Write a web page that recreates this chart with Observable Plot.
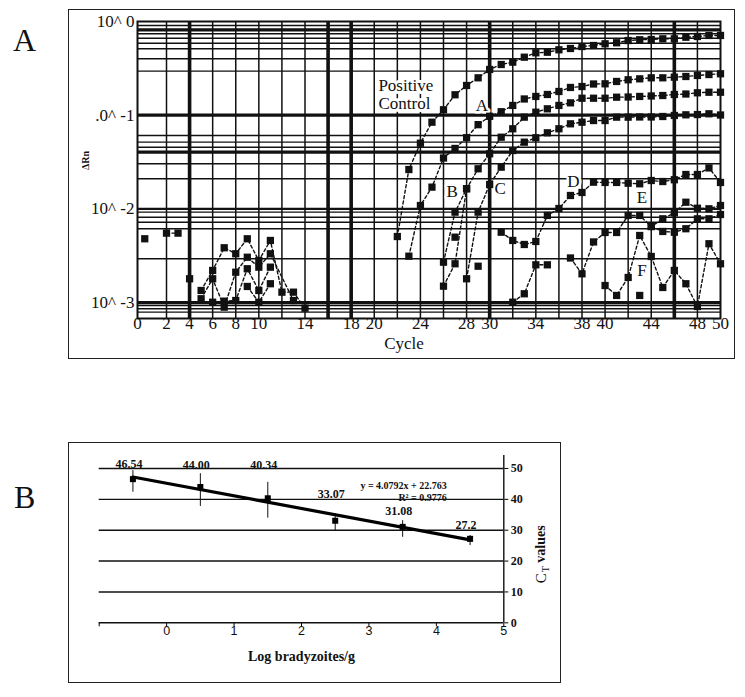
<!DOCTYPE html>
<html><head><meta charset="utf-8">
<script src="https://cdn.jsdelivr.net/npm/d3@7"></script>
<script src="https://cdn.jsdelivr.net/npm/@observablehq/plot@0.6"></script>
<style>
body{margin:0;background:#fff;}
#page{position:relative;width:745px;height:697px;overflow:hidden;background:#fff;}
.box{position:absolute;border:1px solid #222;}
.box svg{display:block;}
.panel{position:absolute;font-family:"Liberation Serif",serif;font-size:32px;line-height:1;color:#111;}
</style></head>
<body>
<div id="page">
  <div class="panel" style="left:13px;top:24px">A</div>
  <div class="panel" style="left:14px;top:481px">B</div>
  <div id="boxA" class="box" style="left:68px;top:9px;width:665px;height:348px"></div>
  <div id="boxB" class="box" style="left:68px;top:442px;width:491px;height:239px"></div>
</div>
<script>
// ---------- Panel A : amplification plot (values are log10 ΔRn) ----------
const pcCycles = d3.range(22, 51);
const pcLog = [-2.295,-1.580,-1.299,-1.075,-0.942,-0.782,-0.683,-0.601,-0.512,-0.459,-0.434,-0.381,-0.334,-0.328,-0.302,-0.288,-0.267,-0.256,-0.238,-0.227,-0.203,-0.195,-0.192,-0.185,-0.185,-0.168,-0.160,-0.149,-0.149];
const aCycles = d3.range(23, 51);
const aLog = [-2.505,-1.964,-1.768,-1.457,-1.355,-1.240,-1.101,-1.012,-0.963,-0.896,-0.827,-0.800,-0.779,-0.747,-0.704,-0.694,-0.667,-0.665,-0.640,-0.622,-0.612,-0.601,-0.601,-0.594,-0.587,-0.576,-0.566,-0.558];
const bCycles = d3.range(26, 51);
const bLog = [-2.569,-2.035,-1.785,-1.572,-1.412,-1.235,-1.145,-1.021,-0.968,-0.932,-0.896,-0.868,-0.819,-0.819,-0.819,-0.808,-0.806,-0.800,-0.795,-0.790,-0.779,-0.774,-0.761,-0.755,-0.755];
const b2Cycles = [26, 27, 28];
const b2Log = [-2.825,-2.586,-1.785];
const cCycles = d3.range(28, 51);
const cLog = [-2.746,-2.035,-1.740,-1.555,-1.377,-1.288,-1.241,-1.188,-1.145,-1.092,-1.075,-1.057,-1.057,-1.021,-1.021,-1.019,-1.019,-1.014,-1.003,-0.996,-0.993,-0.985,-0.998];
const dCycles = d3.range(31, 51);
const dLog = [-2.249,-2.337,-2.380,-2.348,-2.070,-1.996,-1.857,-1.825,-1.715,-1.718,-1.718,-1.726,-1.732,-1.697,-1.708,-1.689,-1.633,-1.633,-1.563,-1.718];
const eCycles = d3.range(32, 51);
const eLog = [-2.996,-2.906,-2.597,-2.597,null,-2.524,-2.693,-2.353,-2.252,-2.252,-2.070,-2.070,-2.188,-2.106,-2.042,-1.929,-1.993,-1.999,-1.964];
const e2Cycles = d3.range(44, 51);
const e2Log = [-2.188,-2.241,-2.249,-2.212,-2.106,-2.106,-2.060];
const fCycles = d3.range(40, 51);
const fLog = [-2.818,-2.924,-2.732,-2.284,-2.508,-2.839,-2.657,-2.799,-3.042,-2.372,-2.586];
const n1Cycles = [5,6,7,8,9,10,11,12,13,14];
const n1Log = [-2.871,-2.657,-2.415,-2.479,-2.319,-2.551,-2.337,-2.889,-2.889,-3.060];
const n2Cycles = [5,6,7,8,9,10,11,13];
const n2Log = [-2.959,-2.746,-3.049,-2.676,-2.516,-2.622,-2.479,-2.978];
const n3Cycles = [6,7,8,9,10,11];
const n3Log = [-2.996,-2.985,-2.978,-2.639,-2.871,-2.622];
const n4Cycles = [9,10,11];
const n4Log = [-2.828,-2.996,-2.799];
const n5Cycles = [2,3];
const n5Log = [-2.259,-2.259];
const looseCycles = [0.5, 4, 27, 29, 43];
const looseLog = [-2.319,-2.746,-2.302,-2.612,-2.924];

const xTicksA = [0,2,4,6,8,10,14,18,20,24,28,30,34,38,40,44,48,50];
const yTicksA = [0,-1,-2,-3];
const yTickLabelsA = ["10^ 0", ".0^ -1", "10^ -2", "10^ -3"];
const vGridThin = [2,6,8,10,12,14,20,22,24,26,28,32,34,36,38,40,42,44,48];
const vGridThick = [4,16,18,30,46];
const hGridThin = [-0.043,-0.131,-0.178,-0.232,-0.291,-0.398,-0.530,-1.217,-1.288,-1.342,-1.519,-1.679,-2.035,-2.089,-2.142,-2.212,-2.533,-3.032,-3.066,-3.102];
const hGridThick = [-0.089,-1,-1.395,-3];
const hGridMid = [-2];
const controlText = ["Positive","Control"];
const controlCycle = [20.36,20.36];
const controlLog = [-0.683,-0.878];
const curveText = ["A","B","C","D","E","F"];
const curveCycle = [29.33,26.75,30.9,37.25,43.2,43.2];
const curveLog = [-0.902,-1.814,-1.782,-1.71,-1.882,-2.657];

const seriesDefs = [
  ["PC", pcCycles, pcLog], ["A", aCycles, aLog], ["B", bCycles, bLog], ["B2", b2Cycles, b2Log],
  ["C", cCycles, cLog], ["D", dCycles, dLog], ["E", eCycles, eLog], ["E2", e2Cycles, e2Log],
  ["F", fCycles, fLog], ["N1", n1Cycles, n1Log], ["N2", n2Cycles, n2Log], ["N3", n3Cycles, n3Log],
  ["N4", n4Cycles, n4Log], ["N5", n5Cycles, n5Log]
];
const rowsA = seriesDefs.flatMap(([s, cs, ls]) => cs.map((c, i) => ({series: s, cycle: c, log: ls[i]})));
const looseRows = looseCycles.map((c, i) => ({series: "loose", cycle: c, log: looseLog[i]}));
const controlNotes = controlText.map((t, i) => ({text: t, cycle: controlCycle[i], log: controlLog[i]}));
const curveNotes = curveText.map((t, i) => ({text: t, cycle: curveCycle[i], log: curveLog[i]}));

const serif = "Liberation Serif, Times New Roman, serif";
const ink = "#111";

const plotA = Plot.plot({
  width: 665, height: 348,
  marginLeft: 68, marginRight: 14, marginTop: 11, marginBottom: 40,
  style: {background: "transparent", overflow: "visible"},
  x: {type: "linear", domain: [0, 2, 50], range: [68, 97, 651], axis: null},
  y: {type: "linear", domain: [-3.17, 0], range: [308, 11], axis: null},
  marks: [
    Plot.ruleY(hGridThin, {stroke: ink, strokeWidth: 1.4}),
    Plot.ruleY(hGridMid, {stroke: ink, strokeWidth: 2.4}),
    Plot.ruleY(hGridThick, {stroke: ink, strokeWidth: 3.2}),
    Plot.ruleX(vGridThin, {stroke: ink, strokeWidth: 1.5}),
    Plot.ruleX(vGridThick, {stroke: ink, strokeWidth: 3.6}),
    Plot.frame({stroke: ink, strokeWidth: 2}),
    Plot.text(controlNotes, {x: "cycle", y: "log", text: "text", textAnchor: "start", fill: ink,
      stroke: "white", strokeWidth: 6, fontSize: 17, fontFamily: serif}),
    Plot.text(curveNotes, {x: "cycle", y: "log", text: "text", textAnchor: "middle", fill: ink,
      stroke: "white", strokeWidth: 5, fontSize: 17, fontFamily: serif}),
    Plot.line(rowsA, {x: "cycle", y: "log", z: "series", stroke: ink, strokeWidth: 1.4, strokeDasharray: "3,2.5"}),
    Plot.dot(rowsA.concat(looseRows), {x: "cycle", y: "log", symbol: "square", r: 4.1, fill: ink}),
    Plot.text(xTicksA, {x: d => d, frameAnchor: "bottom", dy: 10, text: d => String(d), fontSize: 17, fontFamily: serif, fill: ink}),
    Plot.text(yTicksA, {y: d => d, frameAnchor: "left", text: yTickLabelsA, textAnchor: "end", dx: -3, fontSize: 17, fontFamily: serif, fill: ink}),
    Plot.text(["Cycle"], {frameAnchor: "bottom", dx: -25, dy: 30, fontSize: 17, fontFamily: serif, fill: ink}),
    Plot.text(["ΔRn"], {frameAnchor: "left", dx: -52, rotate: -90, fontSize: 10, fontWeight: "bold", fontFamily: serif, fill: ink})
  ]
});
document.getElementById("boxA").appendChild(plotA);

// ---------- Panel B : standard curve ----------
const logBrady = [-0.5, 0.5, 1.5, 2.5, 3.5, 4.5];
const ctMean = [46.54, 44.00, 40.34, 33.07, 31.08, 27.2];
const ctLow = [42.3, 37.7, 33.9, 29.6, 27.7, 25.0];
const ctHigh = [49.3, 48.3, 45.5, 35.3, 33.1, 28.3];
const ctLabels = ["46.54", "44.00", "40.34", "33.07", "31.08", "27.2"];
const ctLabelY = [51.5, 51.2, 51.2, 41.6, 36.1, 31.5];
const xDomainB = [-1, 5];
const xTicksB = [-1, 0, 1, 2, 3, 4, 5];
const xTickLabelsB = [0, 1, 2, 3, 4, 5];
const yTicksB = [0, 10, 20, 30, 40, 50];
const equationLines = ["y = 4.0792x + 22.763", "R² = 0.9776"];

const dataB = logBrady.map((x, i) => ({x, ct: ctMean[i], lo: ctLow[i], hi: ctHigh[i], label: ctLabels[i], ly: ctLabelY[i]}));

const plotB = Plot.plot({
  width: 491, height: 239,
  marginLeft: 29.7, marginRight: 56.7, marginTop: 12, marginBottom: 59.7,
  style: {background: "transparent", overflow: "visible"},
  x: {domain: xDomainB, ticks: xTicksB, tickSize: 4, tickFormat: () => "", label: null},
  y: {domain: [0, 54.2], axis: "right", ticks: yTicksB, tickSize: 4, tickFormat: () => "", label: null},
  marks: [
    Plot.ruleY(yTicksB, {stroke: ink, strokeWidth: 1.4}),
    Plot.ruleX([xDomainB[1]], {stroke: ink, strokeWidth: 1.4}),
    Plot.ruleX(dataB, {x: "x", y1: "lo", y2: "hi", stroke: ink, strokeWidth: 1}),
    Plot.linearRegressionY(dataB, {x: "x", y: "ct", stroke: "#000", strokeWidth: 3.2, ci: 0}),
    Plot.dot(dataB, {x: "x", y: "ct", symbol: "square", r: 3.4, fill: "#000"}),
    Plot.text(dataB, {x: "x", y: "ly", text: "label", dx: -4, fontSize: 12, fontWeight: "bold", fontFamily: serif, fill: ink}),
    Plot.text([equationLines[0]], {frameAnchor: "top-right", dx: -57, dy: 26, fontSize: 10, fontWeight: "bold", fontFamily: serif, fill: ink}),
    Plot.text([equationLines[1]], {frameAnchor: "top-right", dx: -57, dy: 38.5, fontSize: 10, fontWeight: "bold", fontFamily: serif, fill: ink}),
    Plot.text(xTickLabelsB, {x: d => d, frameAnchor: "bottom", dy: 12, text: d => String(d), fontSize: 12.5, fontFamily: "Liberation Sans, Arial, sans-serif", fill: ink}),
    Plot.text(yTicksB, {y: d => d, frameAnchor: "right", textAnchor: "start", dx: 7, text: d => String(d), fontSize: 12, fontWeight: "bold", fontFamily: serif, fill: ink}),
    Plot.text(["Log bradyzoites/g"], {frameAnchor: "bottom", dy: 38, fontSize: 14, fontWeight: "bold", fontFamily: serif, fill: ink}),
    Plot.text(["C"], {frameAnchor: "right", dx: 37, dy: 44, rotate: -90, textAnchor: "start", fontSize: 15, fontFamily: serif, fill: ink}),
    Plot.text(["T"], {frameAnchor: "right", dx: 42, dy: 33, rotate: -90, textAnchor: "start", fontSize: 10, fontFamily: serif, fill: ink}),
    Plot.text(["values"], {frameAnchor: "right", dx: 37, dy: 23.5, rotate: -90, textAnchor: "start", fontSize: 14, fontWeight: "bold", fontFamily: serif, fill: ink})
  ]
});
document.getElementById("boxB").appendChild(plotB);
</script>
</body></html>
